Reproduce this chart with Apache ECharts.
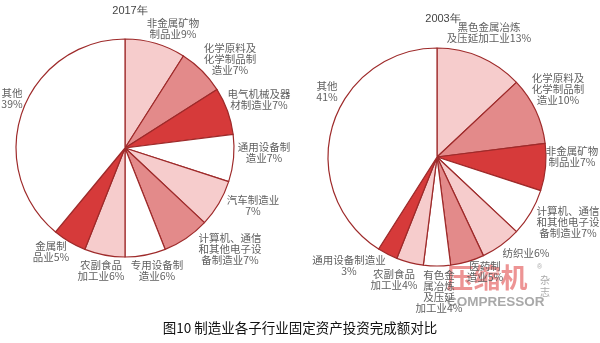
<!DOCTYPE html>
<html>
<head>
<meta charset="utf-8">
<script src="https://cdn.jsdelivr.net/npm/echarts@6/dist/echarts.min.js"></script>
<style>
html,body{margin:0;padding:0;background:#fff;}
#chart{width:600px;height:343px;}
</style>
</head>
<body>
<div id="chart"></div>
<script>
// 2017 fixed-asset investment shares by manufacturing sub-industry (%)
const names2017 = ['非金属矿物\n制品业9%', '化学原料及\n化学制品制\n造业7%', '电气机械及器\n材制造业7%', '通用设备制\n造业7%', '汽车制造业\n7%', '计算机、通信\n和其他电子设\n备制造业7%', '专用设备制\n造业6%', '农副食品\n加工业6%', '金属制\n品业5%', '其他\n39%'];
const values2017 = [9, 7, 7, 7, 7, 7, 6, 6, 5, 39];

// 2003 shares (%)
const names2003 = ['黑色金属冶炼\n及压延加工业13%', '化学原料及\n化学制品制\n造业10%', '非金属矿物\n制品业7%', '计算机、通信\n和其他电子设\n备制造业7%', '纺织业6%', '医药制\n造业5%', '有色金\n属冶炼\n及压延\n加工业4%', '农副食品\n加工业4%', '通用设备制造业\n3%', '其他\n41%'];
const values2003 = [13, 10, 7, 7, 6, 5, 4, 4, 3, 41];

// fills: light pink, rose, red, white
const shades = ['#f6cccc', '#e38a8a', '#d63a3a', '#ffffff'];
// shade index per slice (same sequence in both years)
const shadeOrder = [0, 1, 2, 3, 0, 1, 3, 0, 2, 3];

// label centres for each slice
const labelPos2017 = [[173,29],[230,59],[259,100],[264,153],[253,206],[230,249],[157,271],[101,271],[51,252],[12,99]];
const labelPos2003 = [[489,33],[558,89],[572,157],[568,222],[526,253],[485,272],[439,292],[394,280],[349,266],[327,92]];

function makePie(names, values, center, positions) {
  return {
    type: 'pie',
    center: center,
    radius: [0, 109],
    startAngle: 90,
    clockwise: true,
    animation: false,
    silent: true,
    itemStyle: { borderColor: '#9e2a2a', borderWidth: 1.2 },
    label: {
      show: true,
      position: 'inside',
      overflow: 'none',
      formatter: '{b}',
      color: '#5f5f5f',
      fontSize: 10.5,
      lineHeight: 11,
      align: 'center',
      fontFamily: 'Noto Sans CJK SC'
    },
    labelLine: { show: false },
    labelLayout: function (p) {
      const pos = positions[p.dataIndex];
      return { x: pos[0], y: pos[1], align: 'center', verticalAlign: 'middle' };
    },
    data: names.map((n, i) => ({
      name: n,
      value: values[i],
      itemStyle: { color: shades[shadeOrder[i]] }
    }))
  };
}

const chart = echarts.init(document.getElementById('chart'));
chart.setOption({
  backgroundColor: '#ffffff',
  title: [
    { text: '2017年', left: 125, top: 0, textAlign: 'center',
      textStyle: { fontSize: 11, fontWeight: 'normal', color: '#444', fontFamily: 'Liberation Sans' } },
    { text: '2003年', left: 438, top: 8, textAlign: 'center',
      textStyle: { fontSize: 11, fontWeight: 'normal', color: '#444', fontFamily: 'Liberation Sans' } },
    { text: '图10 制造业各子行业固定资产投资完成额对比', left: 'center', top: 316,
      textStyle: { fontSize: 13.5, fontWeight: 'normal', color: '#111', fontFamily: 'Noto Sans CJK SC' } }
  ],
  series: [
    makePie(names2017, values2017, [125, 148], labelPos2017),
    makePie(names2003, values2003, [437, 157], labelPos2003)
  ],
  graphic: [
    { type: 'text', left: 446, top: 264, silent: true,
      style: { text: '压缩机', fontSize: 27, fontWeight: 'bold', fill: 'rgba(228,90,90,0.65)',
               fontFamily: 'Noto Sans CJK SC', stroke: '#fff', lineWidth: 1 } },
    { type: 'text', left: 537, top: 264, silent: true,
      style: { text: '®', fontSize: 7, fill: '#aaa' } },
    { type: 'text', left: 540, top: 274, silent: true,
      style: { text: '杂\n志', fontSize: 10, lineHeight: 12, fill: '#aaa', fontFamily: 'Noto Sans CJK SC' } },
    { type: 'text', left: 447, top: 295, silent: true,
      style: { text: 'COMPRESSOR', fontSize: 13.5, fontWeight: 'bold', fill: 'rgba(140,140,140,0.75)',
               fontFamily: 'Liberation Sans' } }
  ]
});
</script>
</body>
</html>
